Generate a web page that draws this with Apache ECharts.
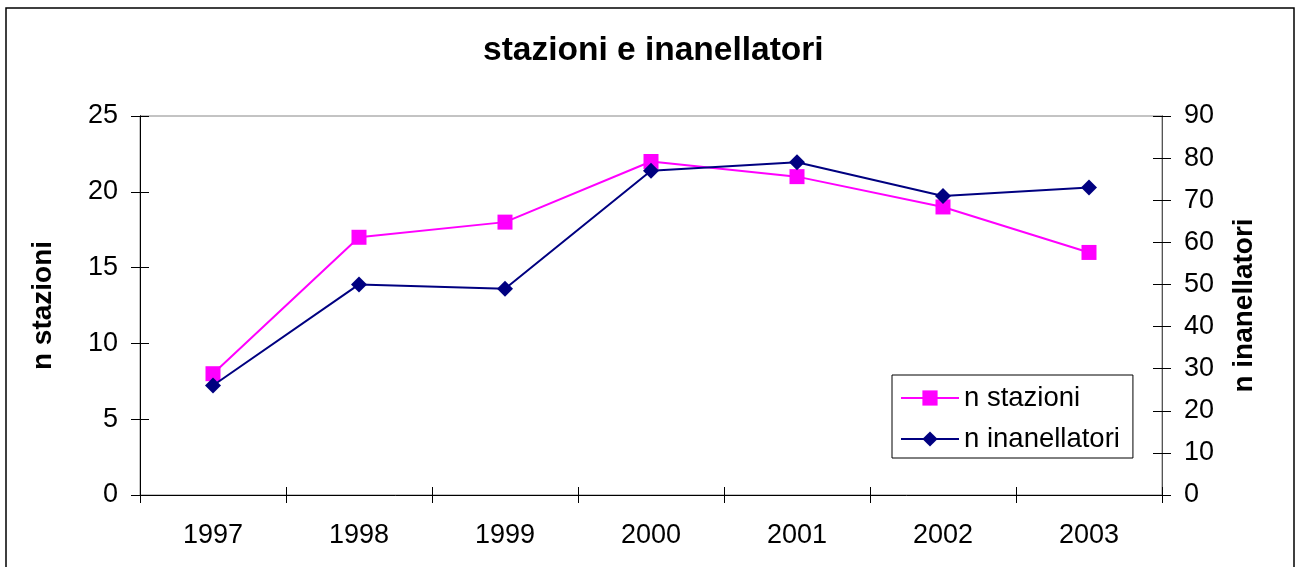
<!DOCTYPE html>
<html>
<head>
<meta charset="utf-8">
<script src="https://cdn.jsdelivr.net/npm/echarts@6/dist/echarts.min.js"></script>
<style>
  html, body { margin: 0; padding: 0; background: #fff; }
  #main { width: 1297px; height: 567px; }
</style>
</head>
<body>
<div id="main"></div>
<script>
var years = ['1997', '1998', '1999', '2000', '2001', '2002', '2003'];
var stazioni = [8, 17, 18, 22, 21, 19, 16];
var inanellatori = [26, 50, 49, 77, 79, 71, 73];

var chart = echarts.init(document.getElementById('main'));
var font = 'Liberation Sans, Arial, sans-serif';

function yAx(pos, max, interval, main, name, gap) {
  return {
    type: 'value',
    position: pos,
    min: 0,
    max: max,
    interval: interval,
    name: main ? name : '',
    nameLocation: 'middle',
    nameGap: gap,
    nameRotate: 90,
    nameTextStyle: { fontFamily: font, fontSize: 28, fontWeight: 'bold', color: '#000' },
    axisLine: { show: true, lineStyle: { color: pos === 'left' ? '#000' : '#555', width: 1 } },
    axisTick: { show: true, inside: !main, length: 9, lineStyle: { color: '#000' } },
    axisLabel: { show: main, margin: 22, fontFamily: font, fontSize: 27, color: '#000' },
    splitLine: { show: false }
  };
}

var option = {
  backgroundColor: '#fff',
  animation: false,
  title: {
    text: 'stazioni e inanellatori',
    left: 478,
    top: 29,
    textStyle: { fontFamily: font, fontSize: 33.5, fontWeight: 'bold', color: '#000' }
  },
  graphic: [{
    type: 'rect',
    shape: { x: 6, y: 8, width: 1288, height: 620 },
    style: { fill: 'none', stroke: '#000', lineWidth: 1.5 },
    silent: true
  }],
  grid: {
    left: 140, right: 135, top: 116, bottom: 72,
    show: true, borderColor: '#888', borderWidth: 1, backgroundColor: '#fff'
  },
  legend: {
    orient: 'vertical',
    left: 892, top: 375,
    padding: [9, 13, 5, 8],
    itemGap: 13,
    itemWidth: 58,
    itemHeight: 19,
    borderColor: '#000',
    borderWidth: 1,
    backgroundColor: '#fff',
    textStyle: { fontFamily: font, fontSize: 27.5, color: '#000' },
    data: ['n stazioni', 'n inanellatori']
  },
  xAxis: [{
    type: 'category',
    data: years,
    boundaryGap: true,
    axisLine: { lineStyle: { color: '#000' } },
    axisTick: { show: true, length: 8, lineStyle: { color: '#000' } },
    axisLabel: { margin: 27, fontFamily: font, fontSize: 27, color: '#000' }
  }, {
    type: 'category',
    data: years,
    position: 'bottom',
    boundaryGap: true,
    axisLine: { show: false },
    axisTick: { show: true, inside: true, length: 8, lineStyle: { color: '#000' } },
    axisLabel: { show: false }
  }],
  yAxis: [
    yAx('left', 25, 5, true, 'n stazioni', 83),
    yAx('right', 90, 10, true, 'n inanellatori', 68),
    yAx('left', 25, 5, false, '', 0),
    yAx('right', 90, 10, false, '', 0)
  ],
  series: [{
    name: 'n stazioni',
    type: 'line',
    yAxisIndex: 0,
    data: stazioni,
    symbol: 'rect',
    symbolSize: 15,
    lineStyle: { color: '#FF00FF', width: 2 },
    itemStyle: { color: '#FF00FF' },
    z: 2
  }, {
    name: 'n inanellatori',
    type: 'line',
    yAxisIndex: 1,
    data: inanellatori,
    symbol: 'diamond',
    symbolSize: 16,
    lineStyle: { color: '#000080', width: 2 },
    itemStyle: { color: '#000080' },
    z: 3
  }]
};

chart.setOption(option);
</script>
</body>
</html>
